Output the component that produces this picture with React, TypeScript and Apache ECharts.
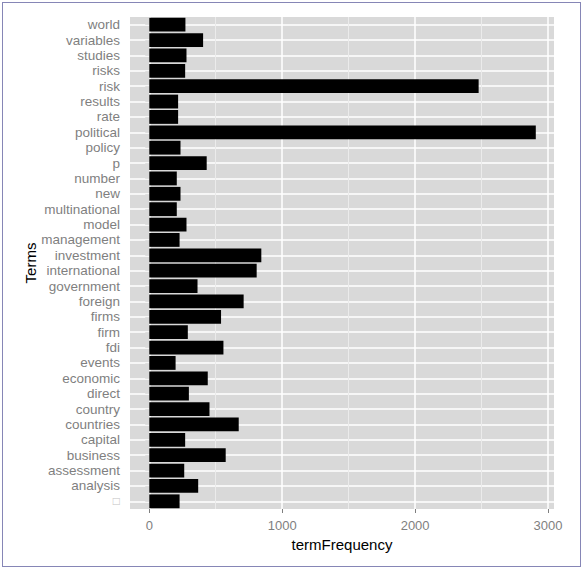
import { useEffect, useRef } from 'react';
import * as echarts from 'echarts';

// categories listed bottom to top, as ECharts draws a category y axis
const terms = [
  '□', 'analysis', 'assessment', 'business', 'capital', 'countries', 'country', 'direct',
  'economic', 'events', 'fdi', 'firm', 'firms', 'foreign', 'government', 'international',
  'investment', 'management', 'model', 'multinational', 'new', 'number', 'p', 'policy',
  'political', 'rate', 'results', 'risk', 'risks', 'studies', 'variables', 'world',
];
const termFrequency = [
  228, 368, 263, 575, 270, 673, 453, 298,
  440, 198, 558, 290, 540, 710, 363, 808,
  843, 228, 280, 207, 235, 207, 432, 235,
  2908, 217, 217, 2478, 270, 280, 405, 272,
];
const majorBreaks = [0, 1000, 2000, 3000];
const minorBreaks = [500, 1500, 2500];

const FONT = '"Liberation Sans", Arial, sans-serif';
const GREY = '#7f7f7f';

export default function App() {
  const chartRef = useRef<HTMLDivElement>(null);

  useEffect(() => {
    if (!chartRef.current) return;
    const chart = echarts.init(chartRef.current, undefined, { renderer: 'svg' });

    const gridLines: any[] = [
      ...terms.map(t => ({ yAxis: t, lineStyle: { color: '#ffffff', width: 1.5, type: 'solid' } })),
      ...minorBreaks.map(v => ({ xAxis: v, lineStyle: { color: '#ebebeb', width: 1, type: 'solid' } })),
      ...majorBreaks.map(v => ({ xAxis: v, lineStyle: { color: '#ffffff', width: 1.5, type: 'solid' } })),
    ];

    chart.setOption({
      animation: false,
      textStyle: { fontFamily: FONT },
      grid: {
        left: 130,
        right: 31,
        top: 17,
        bottom: 61,
        show: true,
        backgroundColor: '#d9d9d9',
        borderWidth: 0,
      },
      xAxis: {
        type: 'value',
        min: -145,
        max: 3045,
        name: 'termFrequency',
        nameLocation: 'middle',
        nameGap: 19,
        nameTextStyle: { color: '#000', fontSize: 15, fontFamily: FONT },
        axisLine: { show: false },
        splitLine: { show: false },
        axisTick: {
          show: true,
          length: 4,
          customValues: majorBreaks,
          lineStyle: { color: GREY, width: 1 },
        },
        axisLabel: {
          customValues: majorBreaks,
          color: GREY,
          fontSize: 13,
          margin: 10,
          fontFamily: FONT,
          formatter: (v: number) => String(v),
        },
      },
      yAxis: {
        type: 'category',
        data: terms,
        name: 'Terms',
        nameLocation: 'middle',
        nameRotate: 90,
        nameGap: 92,
        nameMoveOverlap: false,
        nameTextStyle: { color: '#000', fontSize: 15, fontFamily: FONT },
        axisLine: { show: false },
        splitLine: { show: false },
        axisTick: {
          show: true,
          alignWithLabel: true,
          interval: 0,
          length: 4,
          lineStyle: { color: GREY, width: 1 },
        },
        axisLabel: {
          interval: 0,
          color: GREY,
          fontSize: 13.5,
          margin: 10,
          fontFamily: FONT,
          formatter: (v: string) => (v === '□' ? '{box|□}' : v),
          rich: { box: { color: '#c4c4c4', fontSize: 12 } },
        },
      },
      series: [
        {
          type: 'line',
          data: terms.map(() => null),
          showSymbol: false,
          silent: true,
          z: 1,
          markLine: {
            silent: true,
            z: 1,
            symbol: 'none',
            label: { show: false },
            animation: false,
            data: gridLines,
          },
        },
        {
          type: 'bar',
          data: termFrequency,
          barCategoryGap: '10%',
          itemStyle: { color: '#000000' },
          z: 3,
        },
      ],
    });

    return () => chart.dispose();
  }, []);

  return (
    <div style={{ position: 'absolute', left: 0, top: 0, width: 585, height: 570, background: '#fff' }}>
      <div
        style={{
          position: 'absolute',
          left: 2,
          top: 2,
          width: 579,
          height: 565,
          border: '1.5px solid #8686b6',
          boxSizing: 'border-box',
        }}
      />
      <div ref={chartRef} style={{ position: 'absolute', left: 0, top: 0, width: 585, height: 570 }} />
    </div>
  );
}
